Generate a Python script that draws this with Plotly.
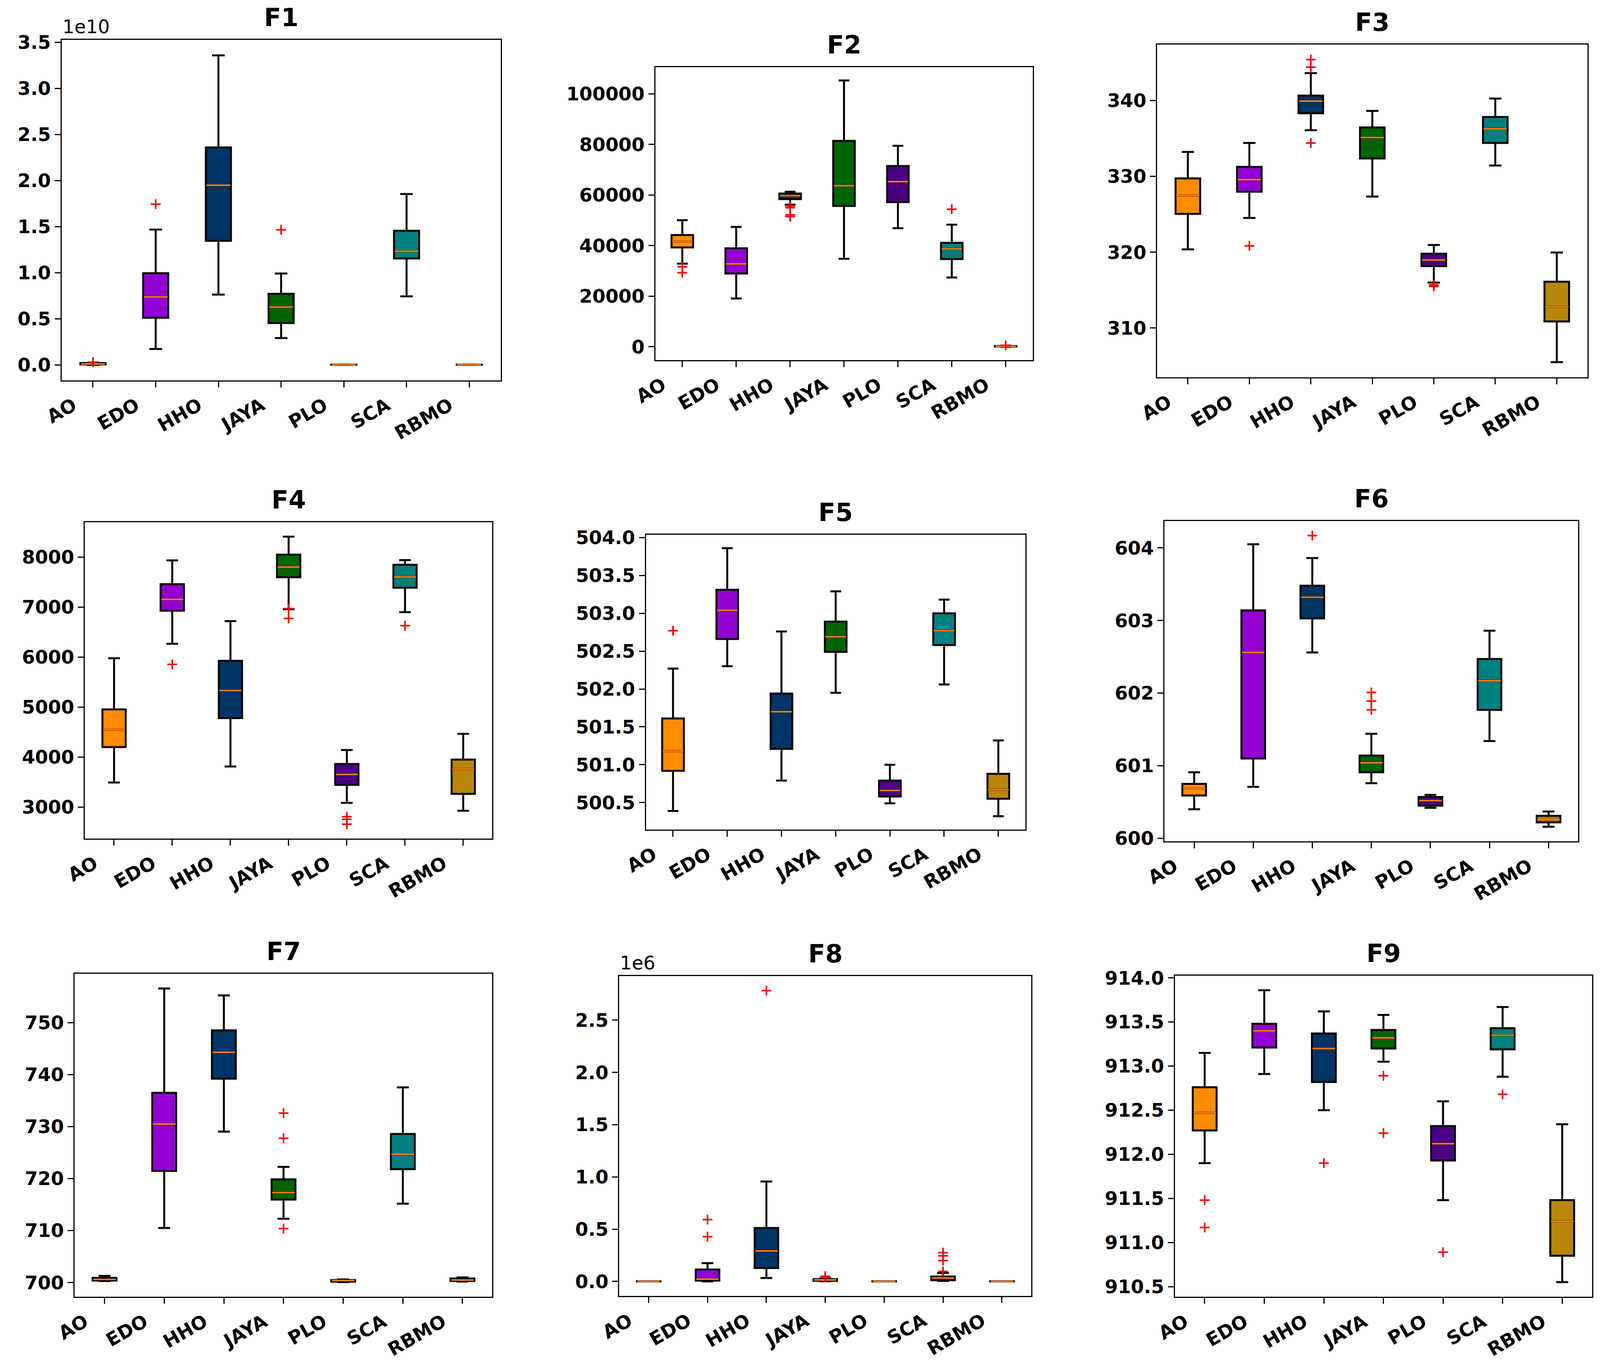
import plotly.graph_objects as go

algos = ["AO", "EDO", "HHO", "JAYA", "PLO", "SCA", "RBMO"]
colors = ["#FF8C00", "#9400D3", "#003366", "#006400", "#4B0082", "#008080", "#B8860B"]

# F1 (values in units of 1e10)
f1_low = [0.0, 0.173, 0.763, 0.292, 0.0, 0.744, 0.0]
f1_q1 = [0.005, 0.512, 1.347, 0.455, 0.001, 1.155, 0.001]
f1_med = [0.01, 0.738, 1.95, 0.628, 0.002, 1.234, 0.002]
f1_q3 = [0.02, 0.995, 2.36, 0.772, 0.003, 1.456, 0.003]
f1_up = [0.025, 1.469, 3.36, 0.992, 0.004, 1.855, 0.004]
f1_out = [[0.03], [1.745], [], [1.466], [], [], []]

# F2
f2_low = [32900, 19100, 56200, 34800, 46900, 27400, 0]
f2_q1 = [39300, 29000, 58400, 55700, 57200, 34700, 100]
f2_med = [41600, 32800, 59800, 63700, 65300, 38700, 200]
f2_q3 = [44200, 38950, 60600, 81400, 71500, 41100, 300]
f2_up = [50050, 47400, 61300, 105300, 79500, 48300, 400]
f2_out = [[31600, 29300], [], [55700, 55000, 52200, 51500], [], [], [54400], [600]]

# F3
f3_low = [320.38, 324.52, 336.08, 327.34, 316.0, 331.44, 305.51]
f3_q1 = [325.06, 327.98, 338.33, 332.36, 318.17, 334.41, 310.87]
f3_med = [327.49, 329.58, 339.92, 335.13, 318.97, 336.27, 312.81]
f3_q3 = [329.73, 331.25, 340.65, 336.46, 319.81, 337.83, 316.12]
f3_up = [333.23, 334.41, 343.61, 338.63, 320.95, 340.27, 319.96]
f3_out = [[], [320.84], [345.4, 344.4, 334.4], [], [315.7, 315.5], [], []]

# F4
f4_low = [3494, 6269, 3813, 6961, 3087, 6902, 2930]
f4_q1 = [4202, 6931, 4783, 7599, 3447, 7390, 3267]
f4_med = [4551, 7158, 5334, 7803, 3656, 7605, 3767]
f4_q3 = [4957, 7460, 5927, 8052, 3865, 7849, 3952]
f4_up = [5979, 7936, 6722, 8412, 4144, 7942, 4469]
f4_out = [[], [5857], [], [6972, 6775], [2810, 2760, 2660], [6630], []]

# F5
f5_low = [500.39, 502.30, 500.79, 501.95, 500.49, 502.06, 500.32]
f5_q1 = [500.92, 502.66, 501.21, 502.49, 500.58, 502.58, 500.55]
f5_med = [501.18, 503.04, 501.70, 502.69, 500.66, 502.77, 500.67]
f5_q3 = [501.61, 503.31, 501.94, 502.89, 500.79, 503.00, 500.88]
f5_up = [502.27, 503.86, 502.76, 503.29, 501.00, 503.18, 501.32]
f5_out = [[502.77], [], [], [], [], [], []]

# F6
f6_low = [600.40, 600.71, 602.56, 600.76, 600.42, 601.34, 600.16]
f6_q1 = [600.59, 601.10, 603.03, 600.91, 600.45, 601.77, 600.22]
f6_med = [600.69, 602.56, 603.32, 601.04, 600.52, 602.17, 600.26]
f6_q3 = [600.75, 603.14, 603.48, 601.14, 600.57, 602.47, 600.31]
f6_up = [600.91, 604.05, 603.86, 601.44, 600.60, 602.86, 600.37]
f6_out = [[], [], [604.17], [602.01, 601.89, 601.77], [], [], []]

# F7
f7_low = [700.3, 710.51, 729.03, 712.29, 700.1, 715.18, 700.2]
f7_q1 = [700.4, 721.47, 739.21, 715.96, 700.2, 721.80, 700.3]
f7_med = [700.6, 730.48, 744.27, 717.30, 700.4, 724.69, 700.5]
f7_q3 = [700.9, 736.49, 748.50, 719.86, 700.5, 728.59, 700.8]
f7_up = [701.3, 756.56, 755.23, 722.25, 700.6, 737.54, 701.0]
f7_out = [[], [], [], [732.59, 727.75, 710.38], [], [], []]

# F8 (values in units of 1e6)
f8_low = [0.0, 0.0, 0.033, 0.001, 0.0, 0.005, 0.0]
f8_q1 = [0.0005, 0.008, 0.128, 0.006, 0.0005, 0.011, 0.0005]
f8_med = [0.001, 0.022, 0.292, 0.014, 0.001, 0.033, 0.001]
f8_q3 = [0.0015, 0.114, 0.511, 0.022, 0.0015, 0.047, 0.0015]
f8_up = [0.002, 0.175, 0.956, 0.03, 0.002, 0.08, 0.002]
f8_out = [[], [0.592, 0.428], [2.783], [0.05, 0.04], [], [0.275, 0.245, 0.2, 0.095], []]

# F9
f9_low = [911.90, 912.91, 912.50, 913.05, 911.48, 912.88, 910.55]
f9_q1 = [912.27, 913.21, 912.82, 913.20, 911.93, 913.19, 910.85]
f9_med = [912.47, 913.40, 913.20, 913.32, 912.12, 913.35, 911.24]
f9_q3 = [912.76, 913.48, 913.37, 913.41, 912.32, 913.43, 911.48]
f9_up = [913.15, 913.86, 913.62, 913.58, 912.60, 913.67, 912.34]
f9_out = [[911.48, 911.17], [], [911.90], [912.89, 912.24], [910.89], [912.68], []]

panels = [
    ("F1", f1_low, f1_q1, f1_med, f1_q3, f1_up, f1_out, 0.5, ".1f", "1e10"),
    ("F2", f2_low, f2_q1, f2_med, f2_q3, f2_up, f2_out, 20000, "d", None),
    ("F3", f3_low, f3_q1, f3_med, f3_q3, f3_up, f3_out, 10, "d", None),
    ("F4", f4_low, f4_q1, f4_med, f4_q3, f4_up, f4_out, 1000, "d", None),
    ("F5", f5_low, f5_q1, f5_med, f5_q3, f5_up, f5_out, 0.5, ".1f", None),
    ("F6", f6_low, f6_q1, f6_med, f6_q3, f6_up, f6_out, 1, "d", None),
    ("F7", f7_low, f7_q1, f7_med, f7_q3, f7_up, f7_out, 10, "d", None),
    ("F8", f8_low, f8_q1, f8_med, f8_q3, f8_up, f8_out, 0.5, ".1f", "1e6"),
    ("F9", f9_low, f9_q1, f9_med, f9_q3, f9_up, f9_out, 0.5, ".1f", None),
]

# axes boxes in paper fractions (x0, x1, y0, y1)
domains = [
    (0.0385, 0.3129, 0.7203, 0.9707),
    (0.4096, 0.6454, 0.7352, 0.9506),
    (0.7232, 0.9922, 0.7226, 0.9673),
    (0.0531, 0.3077, 0.3834, 0.6160),
    (0.4037, 0.6409, 0.3900, 0.6068),
    (0.7279, 0.9863, 0.3814, 0.6169),
    (0.0467, 0.3077, 0.0465, 0.2840),
    (0.3870, 0.6446, 0.0471, 0.2823),
    (0.7343, 0.9950, 0.0465, 0.2826),
]

FONT = "DejaVu Sans"
tick_font = dict(family=FONT, size=48, color="black", weight="bold")

fig = go.Figure()
annotations = []

for i, (name, low, q1, med, q3, up, out, dtick, fmt, offset) in enumerate(panels):
    n = "" if i == 0 else str(i + 1)
    xa, ya = "x" + n, "y" + n

    for j, algo in enumerate(algos):
        fig.add_trace(go.Box(
            x=[algo], q1=[q1[j]], median=[med[j]], q3=[q3[j]],
            lowerfence=[low[j]], upperfence=[up[j]],
            fillcolor=colors[j], line=dict(color="black", width=5),
            width=0.4, whiskerwidth=0.5, boxpoints=False,
            xaxis=xa, yaxis=ya, showlegend=False, hoverinfo="skip",
        ))
        # orange median line on top
        fig.add_trace(go.Box(
            x=[algo], q1=[med[j]], median=[med[j]], q3=[med[j]],
            lowerfence=[med[j]], upperfence=[med[j]],
            fillcolor="rgba(0,0,0,0)", line=dict(color="#FF7F0E", width=4),
            width=0.38, whiskerwidth=0, boxpoints=False,
            xaxis=xa, yaxis=ya, showlegend=False, hoverinfo="skip",
        ))
        if out[j]:
            fig.add_trace(go.Scatter(
                x=[algo] * len(out[j]), y=out[j], mode="markers",
                marker=dict(symbol="cross-thin", size=18, color="red",
                            line=dict(color="red", width=4)),
                xaxis=xa, yaxis=ya, showlegend=False, hoverinfo="skip",
            ))

    all_vals = low + up + [v for o in out for v in o]
    lo, hi = min(all_vals), max(all_vals)
    pad = 0.05 * (hi - lo)
    x0, x1, y0, y1 = domains[i]

    axis_common = dict(showline=True, linecolor="black", linewidth=3, mirror=True,
                       ticks="outside", ticklen=15, tickwidth=3, tickcolor="black",
                       showgrid=False, zeroline=False, automargin=False,
                       tickfont=tick_font)
    fig.update_layout(**{
        "xaxis" + n: dict(domain=[x0, x1], anchor=ya, type="category",
                          categoryorder="array", categoryarray=algos,
                          range=[-0.5, 6.5], tickangle=-30, ticklabelshift=-50,
                          **axis_common),
        "yaxis" + n: dict(domain=[y0, y1], anchor=xa, range=[lo - pad, hi + pad],
                          dtick=dtick, tickformat=fmt, **axis_common),
    })

    annotations.append(dict(
        text="<b>%s</b>" % name, x=(x0 + x1) / 2, y=y1, xref="paper", yref="paper",
        xanchor="center", yanchor="bottom", yshift=18, showarrow=False,
        font=dict(family=FONT, size=64, color="black"),
    ))
    if offset:
        annotations.append(dict(
            text=offset, x=x0, y=y1, xref="paper", yref="paper",
            xanchor="left", yanchor="bottom", yshift=4, showarrow=False,
            font=dict(family=FONT, size=48, color="black"),
        ))

fig.update_layout(
    width=4238, height=3482,
    margin=dict(l=0, r=0, t=0, b=0, pad=0),
    paper_bgcolor="white", plot_bgcolor="white",
    boxmode="overlay",
    annotations=annotations,
)

# the browser viewport can be narrower than the requested size, so fit the figure to it
fit_js = """
document.body.style.margin = '0';
document.documentElement.style.overflow = 'hidden';
document.body.style.overflow = 'hidden';
var gd = document.getElementById('{plot_id}');
var w = window.innerWidth, h = window.innerHeight;
if (w > 2000 && h > 1500) {
    gd.style.width = w + 'px';
    gd.style.height = h + 'px';
    Plotly.relayout(gd, {width: w, height: h});
}
"""

fig.write_html("out.html", post_script=fit_js, config={"displayModeBar": False})
